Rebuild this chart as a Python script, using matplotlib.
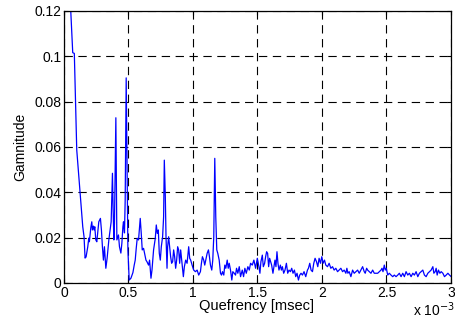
import matplotlib
matplotlib.use("Agg")
import matplotlib.pyplot as plt
import numpy as np

plt.rcParams['font.family'] = ['Liberation Sans', 'DejaVu Sans']

# quefrency in msec (axis shown with x 10^-3 multiplier)
quefrency = [
    0.0, 0.0677, 0.080, 0.0988, 0.1244, 0.1454, 0.1555, 0.1633, 0.1711, 0.1843,
    0.1921, 0.1967, 0.2076, 0.2154, 0.2201, 0.2278, 0.2333, 0.2387, 0.2465, 0.2543,
    0.2621, 0.2698, 0.2823, 0.2901, 0.2978, 0.3056, 0.3134, 0.3243, 0.3344, 0.3476,
    0.3577, 0.3655, 0.3709, 0.3756, 0.3810, 0.3865, 0.3911, 0.4020, 0.4098, 0.4222,
    0.4300, 0.4409, 0.4487, 0.4565, 0.4611, 0.4689, 0.4743, 0.4821, 0.4953, 0.5054,
    0.5187, 0.5342, 0.5443, 0.5521, 0.5599, 0.5676, 0.5778, 0.5855, 0.5910, 0.5988,
    0.6065, 0.6167, 0.6244, 0.6353, 0.6431, 0.6555, 0.6633, 0.6742, 0.6820, 0.6944,
    0.7076, 0.7154, 0.7232, 0.7310, 0.7387, 0.7465, 0.7543, 0.7644, 0.7722, 0.7776,
    0.7854, 0.7908, 0.7986, 0.8033, 0.8111, 0.8188, 0.8266, 0.8344, 0.8422, 0.8499,
    0.8577, 0.8655, 0.8733, 0.8810, 0.8888, 0.8966, 0.9044, 0.9152, 0.9253, 0.9331,
    0.9432, 0.9541, 0.9666, 0.9743, 0.9821, 0.9930, 1.0054, 1.0187, 1.0319, 1.0443,
    1.0575, 1.0653, 1.0731, 1.0832, 1.0910, 1.0988, 1.1097, 1.1197, 1.1275, 1.1353,
    1.1454, 1.1532, 1.1610, 1.1688, 1.1765, 1.1843, 1.1921, 1.2030, 1.2131, 1.2209,
    1.2286, 1.2387, 1.2465, 1.2543, 1.2652, 1.2730, 1.2807, 1.2908, 1.3009, 1.3087,
    1.3196, 1.3297, 1.3375, 1.3476, 1.3585, 1.3686, 1.3818, 1.3919, 1.4020, 1.4129,
    1.4254, 1.4362, 1.4463, 1.4596, 1.4720, 1.4852, 1.4985, 1.5109, 1.5187, 1.5265,
    1.5374, 1.5451, 1.5552, 1.5630, 1.5708, 1.5785, 1.5863, 1.5941, 1.6019, 1.6096,
    1.6197, 1.6275, 1.6353, 1.6431, 1.6509, 1.6586, 1.6664, 1.6773, 1.6851, 1.6929,
    1.7030, 1.7131, 1.7240, 1.7341, 1.7442, 1.7551, 1.7652, 1.7753, 1.7862, 1.7963,
    1.8064, 1.8173, 1.8274, 1.8375, 1.8484, 1.8608, 1.8740, 1.8872, 1.8950, 1.9051,
    1.9152, 1.9261, 1.9362, 1.9463, 1.9572, 1.9673, 1.9774, 1.9883, 1.9984, 2.0086,
    2.0194, 2.0295, 2.0428, 2.0552, 2.0684, 2.0817, 2.0941, 2.1073, 2.1205, 2.1330,
    2.1462, 2.1594, 2.1719, 2.1851, 2.1928, 2.2006, 2.2107, 2.2240, 2.2372, 2.2496,
    2.2628, 2.2761, 2.2885, 2.3017, 2.3149, 2.3274, 2.3351, 2.3460, 2.3538, 2.3663,
    2.3795, 2.3927, 2.4052, 2.4184, 2.4316, 2.4441, 2.4573, 2.4651, 2.4728, 2.4829,
    2.4907, 2.4985, 2.5094, 2.5218, 2.5350, 2.5483, 2.5607, 2.5739, 2.5871, 2.5996,
    2.6128, 2.6260, 2.6385, 2.6517, 2.6649, 2.6773, 2.6906, 2.7038, 2.7162, 2.7294,
    2.7427, 2.7551, 2.7683, 2.7815, 2.7940, 2.8072, 2.8204, 2.8329, 2.8461, 2.8593,
    2.8671, 2.8772, 2.8849, 2.8927, 2.9028, 2.9137, 2.9238, 2.9370, 2.9495, 2.9627,
    2.9759, 2.9883, 3.0016,
]

gamnitude = [
    0.183, 0.1016, 0.1013, 0.0587, 0.0403, 0.0248, 0.0203, 0.0110, 0.0115, 0.0160,
    0.0198, 0.0182, 0.0243, 0.0270, 0.0234, 0.0251, 0.0234, 0.0248, 0.0190, 0.0182,
    0.0226, 0.0270, 0.0285, 0.0234, 0.0160, 0.0101, 0.0160, 0.0065, 0.0110, 0.0190,
    0.0234, 0.0270, 0.0381, 0.0484, 0.0322, 0.0190, 0.0263, 0.0729, 0.0190, 0.0212,
    0.0160, 0.0132, 0.0176, 0.0248, 0.0270, 0.0221, 0.0366, 0.0905, 0.0146, 0.0013,
    0.0021, 0.0046, 0.0079, 0.0101, 0.0153, 0.0197, 0.0190, 0.0248, 0.0285, 0.0219,
    0.0146, 0.0153, 0.0131, 0.0101, 0.0094, 0.0079, 0.0101, 0.0021, 0.0057, 0.0146,
    0.0197, 0.0256, 0.0219, 0.0234, 0.0131, 0.0101, 0.0160, 0.0204, 0.0292, 0.0542,
    0.0381, 0.0204, 0.0065, 0.0160, 0.0204, 0.0160, 0.0116, 0.0087, 0.0094, 0.0146,
    0.0116, 0.0065, 0.0101, 0.0160, 0.0146, 0.0087, 0.0146, 0.0087, 0.0028, 0.0072,
    0.0101, 0.0087, 0.0160, 0.0109, 0.0101, 0.0079, 0.0057, 0.0050, 0.0057, 0.0035,
    0.0050, 0.0087, 0.0116, 0.0101, 0.0079, 0.0101, 0.0131, 0.0146, 0.0116, 0.0079,
    0.0057, 0.0101, 0.0204, 0.0550, 0.0292, 0.0146, 0.0131, 0.0101, 0.0043, 0.0035,
    0.0050, 0.0035, 0.0079, 0.0065, 0.0101, 0.0065, 0.0087, 0.0057, 0.0013, 0.0050,
    0.0043, 0.0035, 0.0065, 0.0043, 0.0072, 0.0028, 0.0057, 0.0028, 0.0065, 0.0043,
    0.0072, 0.0057, 0.0087, 0.0079, 0.0101, 0.0065, 0.0109, 0.0072, 0.0043, 0.0094,
    0.0123, 0.0072, 0.0087, 0.0116, 0.0138, 0.0131, 0.0072, 0.0109, 0.0094, 0.0079,
    0.0043, 0.0072, 0.0101, 0.0072, 0.0138, 0.0087, 0.0057, 0.0079, 0.0057, 0.0072,
    0.0043, 0.0057, 0.0087, 0.0043, 0.0057, 0.0050, 0.0065, 0.0043, 0.0057, 0.0028,
    0.0043, 0.0013, 0.0035, 0.0043, 0.0035, 0.0050, 0.0028, 0.0057, 0.0065, 0.0087,
    0.0057, 0.0050, 0.0087, 0.0109, 0.0094, 0.0072, 0.0109, 0.0087, 0.0116, 0.0087,
    0.0101, 0.0079, 0.0072, 0.0087, 0.0065, 0.0072, 0.0057, 0.0065, 0.0050, 0.0057,
    0.0065, 0.0050, 0.0057, 0.0043, 0.0065, 0.0043, 0.0050, 0.0028, 0.0057, 0.0043,
    0.0050, 0.0057, 0.0043, 0.0057, 0.0072, 0.0050, 0.0043, 0.0065, 0.0057, 0.0050,
    0.0043, 0.0057, 0.0043, 0.0043, 0.0043, 0.0050, 0.0057, 0.0065, 0.0050, 0.0079,
    0.0057, 0.0065, 0.0035, 0.0043, 0.0035, 0.0028, 0.0035, 0.0028, 0.0035, 0.0043,
    0.0028, 0.0043, 0.0028, 0.0050, 0.0035, 0.0043, 0.0028, 0.0043, 0.0035, 0.0050,
    0.0028, 0.0043, 0.0050, 0.0057, 0.0035, 0.0028, 0.0043, 0.0050, 0.0057, 0.0072,
    0.0043, 0.0050, 0.0065, 0.0035, 0.0057, 0.0043, 0.0050, 0.0043, 0.0028, 0.0035,
    0.0043, 0.0035, 0.0028,
]

x_ticks = [0, 0.5, 1, 1.5, 2, 2.5, 3]
x_tick_labels = ['0', '0.5', '1', '1.5', '2', '2.5', '3']
y_ticks = [0, 0.02, 0.04, 0.06, 0.08, 0.1, 0.12]
y_tick_labels = ['0', '0.02', '0.04', '0.06', '0.08', '0.1', '0.12']

fig = plt.figure(figsize=(4.56, 3.21), dpi=100)
ax = fig.add_axes([64 / 456, 1 - 283 / 321, 387 / 456, 272 / 321])

ax.plot(quefrency, gamnitude, color='#0000ff', linewidth=0.9)

ax.set_xlim(0, 3)
ax.set_ylim(0, 0.12)
ax.set_xticks(x_ticks)
ax.set_xticklabels(x_tick_labels)
ax.set_yticks(y_ticks)
ax.set_yticklabels(y_tick_labels)

ax.grid(True, color='black', linestyle=(0, (7.5, 5)), linewidth=0.8)
ax.tick_params(direction='in', length=3, width=0.8, labelsize=10,
               top=True, right=True, pad=2)
for s in ax.spines.values():
    s.set_linewidth(0.9)

ax.set_xlabel('Quefrency [msec]', fontsize=10.5)
ax.set_ylabel('Gamnitude', fontsize=10)
ax.xaxis.set_label_coords(0.4987, -0.058)
ax.yaxis.set_label_coords(-0.095, 0.5)
fig.text(413 / 456, 1 - 316 / 321, r'x 10$^{-3}$', fontsize=10, ha='left', va='baseline')

fig.savefig('out.png', dpi=100)
